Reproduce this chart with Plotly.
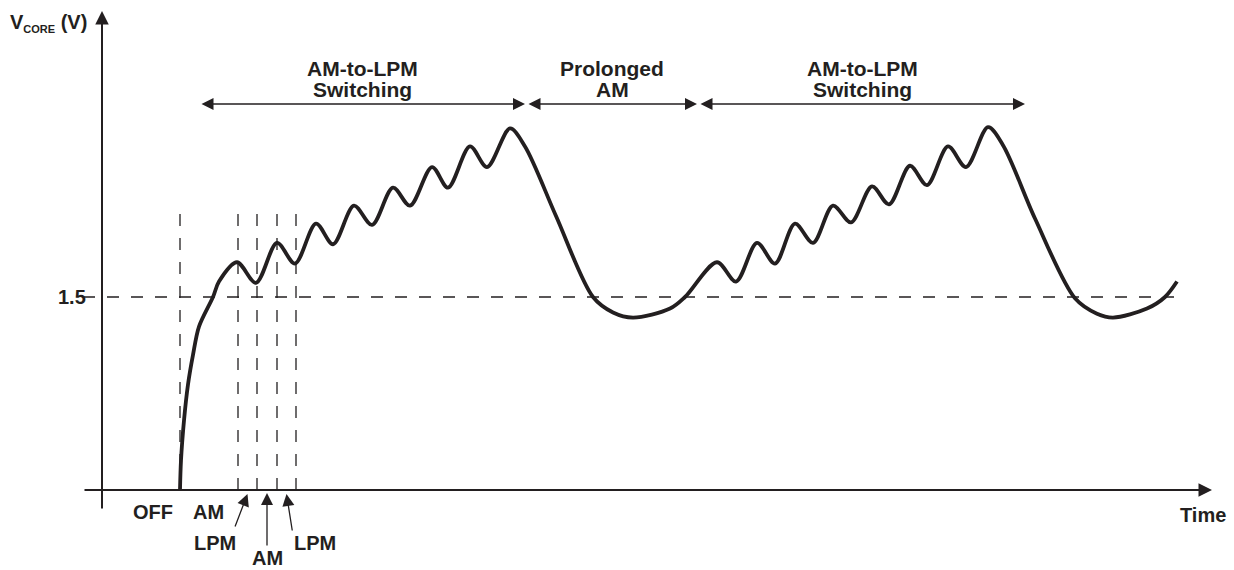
import plotly.graph_objects as go

# ---------------- data (time in arbitrary units, voltage in V) ----------------
time = [7.8, 7.9, 8.2, 8.6, 9.1, 9.7, 11.1, 11.7, 13.5, 15.4, 17.5, 19.3, 21.4, 23.1,
        25.2, 27.0, 29.1, 30.8, 33.0, 34.6, 36.8, 38.5, 40.8, 42.3, 45.4, 49.1,
        51.1, 53.1, 56.8, 58.3, 61.5, 63.4, 65.5, 67.3, 69.3, 71.1, 73.1, 74.9, 77.0,
        78.7, 80.8, 82.5, 84.6, 86.4, 88.6, 90.1, 93.3, 97.3, 99.5, 101.1, 104.5,
        106.3, 107.5]
vcore = [0.00, 0.23, 0.54, 0.82, 1.05, 1.27, 1.50, 1.62, 1.77, 1.61, 1.92, 1.76, 2.07, 1.91,
         2.21, 2.06, 2.35, 2.21, 2.51, 2.35, 2.67, 2.51, 2.81, 2.67, 2.13, 1.50,
         1.38, 1.34, 1.41, 1.50, 1.77, 1.62, 1.92, 1.76, 2.07, 1.92, 2.21, 2.08, 2.36,
         2.22, 2.52, 2.37, 2.67, 2.51, 2.82, 2.68, 2.11, 1.49, 1.37, 1.34, 1.41,
         1.50, 1.62]

threshold_v = 1.5
threshold_label = "1.5"

# mode boundaries at start-up (OFF | AM | LPM | AM | LPM)
mode_edges = [7.8, 13.6, 15.5, 17.5, 19.4]
mode_labels = ["OFF", "AM", "LPM", "AM", "LPM"]

# phases shown above the waveform
phase_start = [9.8, 42.5, 59.7]
phase_end = [42.3, 59.5, 92.3]
phase_line1 = ["AM-to-LPM", "Prolonged", "AM-to-LPM"]
phase_line2 = ["Switching", "AM", "Switching"]

# ---------------- styling / geometry ----------------
INK = "#231f20"
FONT = dict(family="Liberation Sans, Arial, sans-serif", size=20, color=INK, weight="bold")
FONT_TOP = dict(FONT, size=21)
W, H = 1234, 570
PX_PER_T = 10.0          # pixels per time unit
PX_PER_V = 193 / 1.5     # pixels per volt
X0_PX, Y0_PX = 102, 490  # origin location in pixels
x_range = [-X0_PX / PX_PER_T, (W - X0_PX) / PX_PER_T]
y_range = [-(H - Y0_PX) / PX_PER_V, Y0_PX / PX_PER_V]

def tpx(px):   # horizontal pixel offset -> time units
    return px / PX_PER_T

def vpx(px):   # vertical pixel offset -> volts
    return px / PX_PER_V

fig = go.Figure()
fig.add_trace(go.Scatter(x=time, y=vcore, mode="lines",
                         line=dict(color=INK, width=3.8, shape="spline", smoothing=0.9),
                         hoverinfo="skip"))

shapes = []
dash = "12px,12px"
# threshold dashed line
shapes.append(dict(type="line", xref="x", yref="y", x0=-tpx(19), x1=time[-1] - tpx(3),
                   y0=threshold_v, y1=threshold_v, line=dict(color=INK, width=1.3, dash=dash)))
# mode boundary dashed lines
top_dash = vpx(278)
for e in mode_edges:
    shapes.append(dict(type="line", xref="x", yref="y", x0=e, x1=e, y0=0, y1=top_dash,
                       line=dict(color=INK, width=1.3, dash=dash)))

ann = []

def arrow(x, y, ax, ay, width, size, both=False):
    d = dict(x=x, y=y, ax=ax, ay=ay, xref="x", yref="y", axref="x", ayref="y",
             text="", showarrow=True, arrowhead=2, arrowsize=size, arrowwidth=width,
             arrowcolor=INK, standoff=0, startstandoff=0)
    if both:
        d.update(arrowside="end+start", startarrowhead=2, startarrowsize=size)
    return d

# axes
ann.append(arrow(0, y_range[1] - vpx(11), 0, -vpx(20), 2, 1.35))
ann.append(arrow(x_range[1] - tpx(22), 0, -tpx(19), 0, 2, 1.35))

# phase spans
span_v = 3.0
for s, e, l1, l2 in zip(phase_start, phase_end, phase_line1, phase_line2):
    ann.append(arrow(e, span_v, s, span_v, 1.3, 1.85, both=True))
    ann.append(dict(x=(s + e) / 2, y=span_v + vpx(36), xref="x", yref="y", text=l1,
                    showarrow=False, font=FONT_TOP, yanchor="middle", xanchor="center"))
    ann.append(dict(x=(s + e) / 2, y=span_v + vpx(15), xref="x", yref="y", text=l2,
                    showarrow=False, font=FONT_TOP, yanchor="middle", xanchor="center"))

# mode labels under the axis
ann.append(dict(x=tpx(51), y=-vpx(22), xref="x", yref="y", text=mode_labels[0],
                showarrow=False, font=FONT))
ann.append(dict(x=tpx(106), y=-vpx(22), xref="x", yref="y", text=mode_labels[1],
                showarrow=False, font=FONT))
mids = [(mode_edges[i] + mode_edges[i + 1]) / 2 for i in range(1, 4)]
# LPM (left)
ann.append(arrow(mids[0], -vpx(4), mids[0] - tpx(13), -vpx(38), 1.3, 1.85))
ann.append(dict(x=mids[0] - tpx(33), y=-vpx(53), xref="x", yref="y", text=mode_labels[2],
                showarrow=False, font=FONT))
# AM (middle)
ann.append(arrow(mids[1], -vpx(3), mids[1], -vpx(57), 1.3, 1.85))
ann.append(dict(x=mids[1], y=-vpx(68), xref="x", yref="y", text=mode_labels[3],
                showarrow=False, font=FONT))
# LPM (right)
ann.append(arrow(mids[2], -vpx(4), mids[2] + tpx(6), -vpx(42), 1.3, 1.85))
ann.append(dict(x=mids[2] + tpx(28), y=-vpx(53), xref="x", yref="y", text=mode_labels[4],
                showarrow=False, font=FONT))

# axis titles and tick label
ann.append(dict(x=-tpx(14), y=threshold_v, xref="x", yref="y", text=threshold_label,
                showarrow=False, font=FONT, xanchor="right"))
ann.append(dict(x=x_range[1] - tpx(31), y=-vpx(25), xref="x", yref="y", text="Time",
                showarrow=False, font=FONT))
ann.append(dict(x=-tpx(13), y=y_range[1] - vpx(23), xref="x", yref="y",
                text="V<sub><span style='font-size:11px'>CORE</span></sub> (V)",
                showarrow=False, font=FONT, xanchor="right"))

fig.update_layout(
    width=W, height=H, margin=dict(l=0, r=0, t=0, b=0),
    paper_bgcolor="white", plot_bgcolor="white", showlegend=False,
    xaxis=dict(range=x_range, visible=False, fixedrange=True),
    yaxis=dict(range=y_range, visible=False, fixedrange=True),
    shapes=shapes, annotations=ann,
)

fig.write_html("out.html", config={"displayModeBar": False},
               post_script="document.body.style.margin='0';")
